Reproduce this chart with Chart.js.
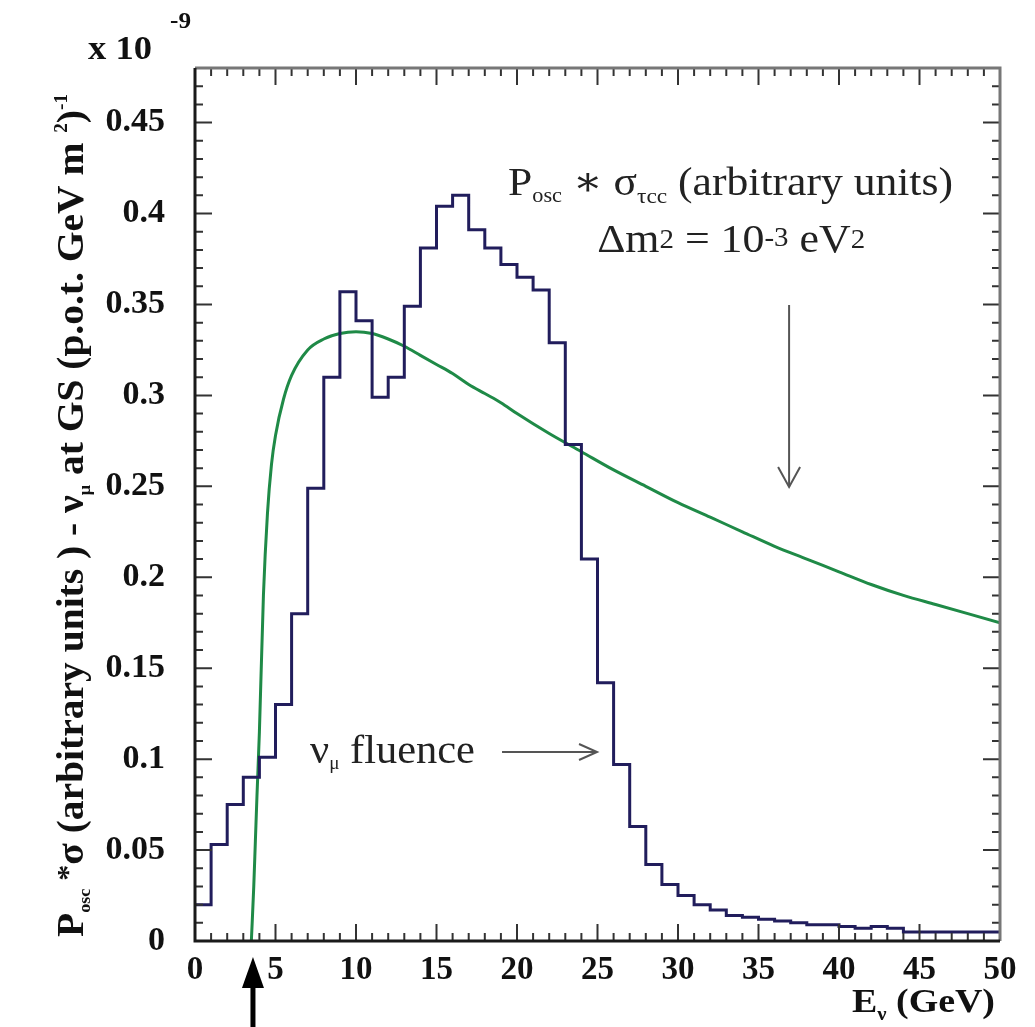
<!DOCTYPE html>
<html>
<head>
<meta charset="utf-8">
<script src="https://cdn.jsdelivr.net/npm/chart.js@4.4.1/dist/chart.umd.min.js"></script>
<style>
  html, body { margin: 0; padding: 0; background: #fff; }
  #wrap { width: 1035px; height: 1027px; position: relative; }
</style>
</head>
<body>
<div id="wrap"><canvas id="chart"></canvas></div>
<script>
// nu_mu fluence histogram, 1 GeV bins from 0 to 50 GeV (x 1e-9)
const binLow = [0,1,2,3,4,5,6,7,8,9,10,11,12,13,14,15,16,17,18,19,20,21,22,23,24,
                25,26,27,28,29,30,31,32,33,34,35,36,37,38,39,40,41,42,43,44,45,46,47,48,49];
const fluence = [0.020,0.053,0.075,0.090,0.101,0.130,0.180,0.249,0.310,0.357,
                 0.341,0.299,0.310,0.349,0.381,0.404,0.410,0.391,0.381,0.372,
                 0.365,0.358,0.329,0.273,0.210,0.142,0.097,0.063,0.042,0.031,
                 0.025,0.020,0.017,0.014,0.013,0.012,0.011,0.010,0.009,0.009,
                 0.008,0.007,0.008,0.007,0.005,0.005,0.005,0.005,0.005,0.005];

// P_osc * sigma_tau_cc curve (arbitrary units)
const curveE   = [3.5,3.65,3.75,3.85,4.0,4.25,4.5,4.75,5.0,5.5,6.0,7.0,8.0,9.0,10.0,11.0,12.0,13.0,14.0,
                  15.0,16.0,17.0,18.0,19.0,20.0,22.0,24.0,26.0,28.0,30.0,32.0,34.0,36.0,38.0,40.0,
                  42.0,44.0,46.0,48.0,50.0];
const curveVal = [0,0.03,0.055,0.08,0.115,0.19,0.235,0.262,0.278,0.298,0.311,0.325,0.331,0.334,0.335,0.334,0.331,0.327,0.322,
                  0.317,0.312,0.306,0.301,0.296,0.290,0.279,0.269,0.259,0.250,0.241,0.233,0.225,0.217,0.210,0.203,
                  0.196,0.190,0.185,0.180,0.175];

const xTicks = [0,5,10,15,20,25,30,35,40,45,50];
const yTicks = [0,0.05,0.1,0.15,0.2,0.25,0.3,0.35,0.4,0.45];
const yTickLabels = ['0','0.05','0.1','0.15','0.2','0.25','0.3','0.35','0.4','0.45'];

const SERIF = "'Liberation Serif', 'DejaVu Serif', serif";

// step line through the bin edges
const histPoints = [{ x: binLow[0], y: fluence[0] }];
binLow.forEach((e, i) => histPoints.push({ x: e + 1, y: fluence[i] }));

function drawRuns(ctx, runs, x, y, opts) {
  opts = opts || {};
  let total = 0;
  const widths = runs.map(r => {
    ctx.font = (r.weight || 'normal') + ' ' + r.size + 'px ' + SERIF;
    const w = ctx.measureText(r.t).width;
    total += w;
    return w;
  });
  const s = opts.width ? opts.width / total : 1;
  let x0 = x;
  if (opts.align === 'center') x0 = x - total * s / 2;
  if (opts.align === 'right') x0 = x - total * s;
  ctx.save();
  ctx.translate(x0, y);
  ctx.scale(s, 1);
  ctx.textBaseline = 'alphabetic';
  ctx.textAlign = 'left';
  ctx.fillStyle = opts.color || '#111';
  let cx = 0;
  runs.forEach((r, i) => {
    ctx.font = (r.weight || 'normal') + ' ' + r.size + 'px ' + SERIF;
    ctx.fillText(r.t, cx, r.dy || 0);
    cx += widths[i];
  });
  ctx.restore();
}

function arrowHead(ctx, tx, ty, dx, dy, len, half) {
  // open V head at (tx,ty) pointing along (dx,dy)
  const px = -dy, py = dx;
  ctx.beginPath();
  ctx.moveTo(tx - dx * len + px * half, ty - dy * len + py * half);
  ctx.lineTo(tx, ty);
  ctx.lineTo(tx - dx * len - px * half, ty - dy * len - py * half);
  ctx.stroke();
}

const framePlugin = {
  id: 'frame',
  afterDatasetsDraw(chart) {
    const { ctx, chartArea: a, scales: { x, y } } = chart;
    ctx.save();
    // inward ticks, ROOT style
    ctx.strokeStyle = '#333';
    ctx.lineWidth = 2;
    for (let k = 0; k <= 50; k++) {
      const px = x.getPixelForValue(k);
      const L = k % 5 === 0 ? 17 : 8;
      ctx.beginPath();
      ctx.moveTo(px, a.bottom); ctx.lineTo(px, a.bottom - L);
      ctx.moveTo(px, a.top); ctx.lineTo(px, a.top + L);
      ctx.stroke();
    }
    for (let k = 0; k <= 48; k++) {
      const py = y.getPixelForValue(k / 100);
      const L = k % 5 === 0 ? 17 : 8;
      ctx.beginPath();
      ctx.moveTo(a.left, py); ctx.lineTo(a.left + L, py);
      ctx.moveTo(a.right, py); ctx.lineTo(a.right - L, py);
      ctx.stroke();
    }
    // frame
    ctx.lineWidth = 3;
    ctx.strokeStyle = '#777';
    ctx.beginPath();
    ctx.moveTo(a.left, a.top); ctx.lineTo(a.right, a.top); ctx.lineTo(a.right, a.bottom);
    ctx.stroke();
    ctx.strokeStyle = '#1a1a1a';
    ctx.beginPath();
    ctx.moveTo(a.left, a.top); ctx.lineTo(a.left, a.bottom); ctx.lineTo(a.right, a.bottom);
    ctx.stroke();
    ctx.restore();
  },
  afterDraw(chart) {
    const { ctx, scales: { x, y } } = chart;
    ctx.save();

    // in-plot annotations
    drawRuns(ctx, [
      { t: 'P', size: 41 }, { t: 'osc', size: 21, dy: 7 }, { t: ' \u2217 ', size: 41 },
      { t: '\u03c3', size: 41 }, { t: '\u03c4cc', size: 22, dy: 8 }, { t: ' (arbitrary units)', size: 41 }
    ], x.getPixelForValue(33.26), y.getPixelForValue(0.410), { align: 'center', width: 445, color: '#222' });
    drawRuns(ctx, [
      { t: '\u0394m', size: 41 }, { t: '2', size: 27, dy: -4 }, { t: ' = 10', size: 41 },
      { t: '-3', size: 27, dy: -6 }, { t: ' eV', size: 41 }, { t: '2', size: 27, dy: -4 }
    ], x.getPixelForValue(33.3), y.getPixelForValue(0.3788), { align: 'center', width: 268, color: '#222' });
    drawRuns(ctx, [
      { t: '\u03bd', size: 40 }, { t: '\u03bc', size: 18, dy: 6 }, { t: ' fluence', size: 40 }
    ], x.getPixelForValue(7.14), y.getPixelForValue(0.0979), { width: 165, color: '#222' });

    ctx.strokeStyle = '#555';
    ctx.lineWidth = 2;
    const hy = y.getPixelForValue(0.1039);
    const hx0 = x.getPixelForValue(19.07), hx1 = x.getPixelForValue(24.97);
    ctx.beginPath(); ctx.moveTo(hx0, hy); ctx.lineTo(hx1, hy); ctx.stroke();
    arrowHead(ctx, hx1, hy, 1, 0, 18, 8);
    const vx = x.getPixelForValue(36.9);
    const vy0 = y.getPixelForValue(0.3497), vy1 = y.getPixelForValue(0.2496);
    ctx.beginPath(); ctx.moveTo(vx, vy0); ctx.lineTo(vx, vy1); ctx.stroke();
    arrowHead(ctx, vx, vy1, 0, 1, 20, 11);

    // exponent label
    drawRuns(ctx, [{ t: 'x 10', size: 34, weight: 'bold' }], 88, 59, { width: 64 });
    drawRuns(ctx, [{ t: '-9', size: 23, weight: 'bold' }], 170, 28, { width: 21 });

    // x axis title
    drawRuns(ctx, [
      { t: 'E', size: 33, weight: 'bold' }, { t: '\u03bd', size: 18, weight: 'bold', dy: 8 },
      { t: ' (GeV)', size: 33, weight: 'bold' }
    ], 995, 1012, { align: 'right', width: 143 });

    // y axis title (rotated)
    ctx.save();
    ctx.translate(83, 937);
    ctx.rotate(-Math.PI / 2);
    drawRuns(ctx, [
      { t: 'P', size: 37, weight: 'bold' }, { t: 'osc', size: 17, weight: 'bold', dy: 7 },
      { t: ' *', size: 30, weight: 'bold', dy: -6 }, { t: '\u03c3', size: 37, weight: 'bold' },
      { t: ' (arbitrary units ) - ', size: 37, weight: 'bold' },
      { t: '\u03bd', size: 37, weight: 'bold' }, { t: '\u03bc', size: 17, weight: 'bold', dy: 7 },
      { t: ' at GS (p.o.t. GeV m ', size: 37, weight: 'bold' },
      { t: '2', size: 18, weight: 'bold', dy: -16 }, { t: ')', size: 37, weight: 'bold' },
      { t: '-1', size: 18, weight: 'bold', dy: -16 }
    ], 0, 0, { width: 843 });
    ctx.restore();

    // black arrow below the axis pointing at the curve's threshold
    const ax = x.getPixelForValue(3.6);
    ctx.fillStyle = '#000';
    ctx.fillRect(ax - 2.5, 984, 5, 1027 - 984);
    ctx.beginPath();
    ctx.moveTo(ax, 957);
    ctx.lineTo(ax - 11, 988);
    ctx.lineTo(ax + 11, 988);
    ctx.closePath();
    ctx.fill();

    ctx.restore();
  }
};

const ctx = document.getElementById('chart').getContext('2d');
new Chart(ctx, {
  type: 'line',
  data: {
    datasets: [{
      label: 'nu_mu fluence',
      data: histPoints,
      stepped: 'after',
      borderColor: '#211d5c',
      borderWidth: 3,
      pointRadius: 0,
      fill: false
    }, {
      label: 'P_osc * sigma',
      data: curveE.map((e, i) => ({ x: e, y: curveVal[i] })),
      borderColor: '#1f8a47',
      borderWidth: 3,
      pointRadius: 0,
      cubicInterpolationMode: 'monotone',
      fill: false
    }]
  },
  options: {
    responsive: true,
    maintainAspectRatio: false,
    animation: false,
    layout: { padding: { top: 68, right: 35, left: 0, bottom: 0 } },
    plugins: { legend: { display: false }, tooltip: { enabled: false } },
    scales: {
      x: {
        type: 'linear',
        min: 0,
        max: 50,
        grid: { display: false, drawTicks: false },
        border: { display: false },
        afterBuildTicks: s => { s.ticks = xTicks.map(v => ({ value: v })); },
        afterFit: s => { s.height = 86; },
        ticks: {
          padding: 10,
          maxRotation: 0,
          color: '#111',
          font: { family: SERIF, size: 33, weight: 'bold' },
          callback: v => String(v)
        }
      },
      y: {
        type: 'linear',
        min: 0,
        max: 0.48,
        grid: { display: false, drawTicks: false },
        border: { display: false },
        afterBuildTicks: s => { s.ticks = yTicks.map(v => ({ value: v })); },
        afterFit: s => { s.width = 195; },
        ticks: {
          padding: 30,
          color: '#111',
          font: { family: SERIF, size: 34, weight: 'bold' },
          callback: (v, i) => yTickLabels[i]
        }
      }
    }
  },
  plugins: [framePlugin]
});
</script>
</body>
</html>
